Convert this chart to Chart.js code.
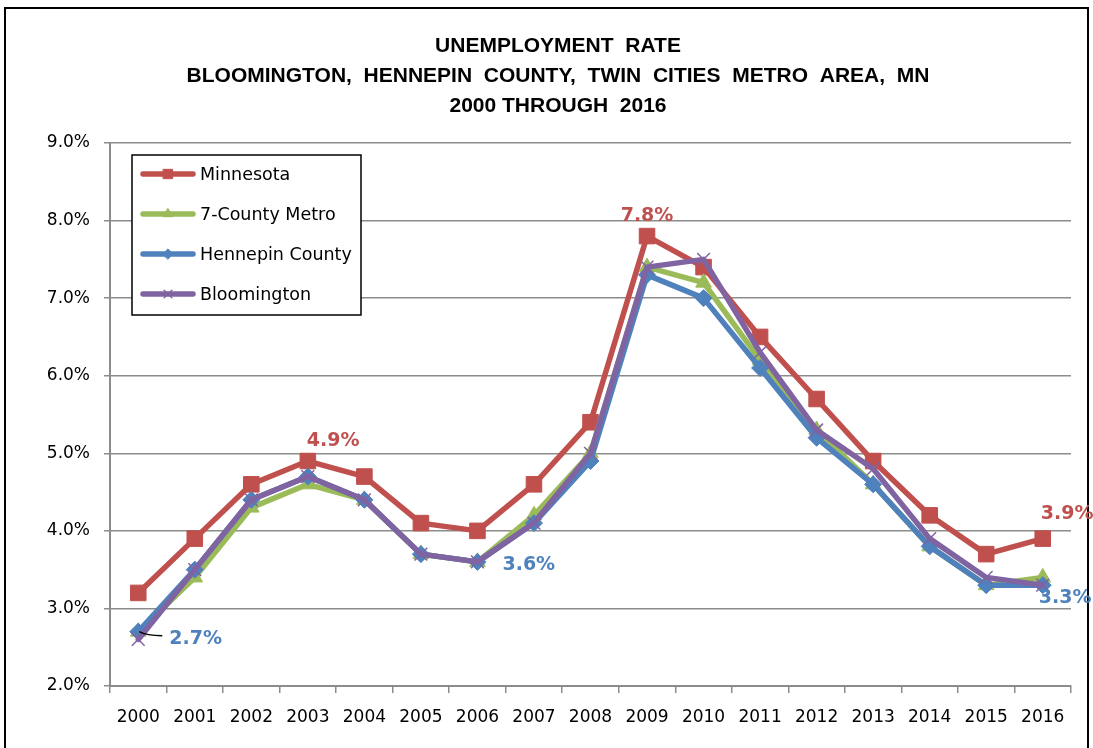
<!DOCTYPE html>
<html lang="en">
<head>
<meta charset="UTF-8">
<title>Unemployment Rate</title>
<script src="https://cdn.jsdelivr.net/npm/chart.js"></script>
<style>
  body { margin: 0; background: #fff; }
  canvas { display: block; }
</style>
</head>
<body>
<canvas id="rateChart" width="1093" height="748"></canvas>
<script>
const years = ['2000', '2001', '2002', '2003', '2004', '2005', '2006', '2007', '2008',
               '2009', '2010', '2011', '2012', '2013', '2014', '2015', '2016'];
const minnesota   = [3.2, 3.9, 4.6, 4.9, 4.7, 4.1, 4.0, 4.6, 5.4, 7.8, 7.4, 6.5, 5.7, 4.9, 4.2, 3.7, 3.9];
const metro7      = [2.7, 3.4, 4.3, 4.6, 4.4, 3.7, 3.6, 4.2, 5.0, 7.4, 7.2, 6.2, 5.3, 4.6, 3.8, 3.3, 3.4];
const hennepin    = [2.7, 3.5, 4.4, 4.7, 4.4, 3.7, 3.6, 4.1, 4.9, 7.3, 7.0, 6.1, 5.2, 4.6, 3.8, 3.3, 3.3];
const bloomington = [2.6, 3.5, 4.4, 4.7, 4.4, 3.7, 3.6, 4.1, 5.0, 7.4, 7.5, 6.3, 5.3, 4.8, 3.9, 3.4, 3.3];
const yTicks = [2, 3, 4, 5, 6, 7, 8, 9];

const titleLines = [
  'UNEMPLOYMENT  RATE',
  'BLOOMINGTON,  HENNEPIN  COUNTY,  TWIN  CITIES  METRO  AREA,  MN',
  '2000 THROUGH  2016'
];

const RED = '#C0504D', GREEN = '#9BBB59', BLUE = '#4F81BD', PURPLE = '#8064A2';
const GRID = '#8c8c8c';

// value callouts: which dataset/year, and where the text sits relative to the point
const callouts = [
  { ds: 0, i: 3,  align: 'left',   dx: -1, dy: -20 },
  { ds: 0, i: 9,  align: 'center', dx: 0,  dy: -20 },
  { ds: 0, i: 16, align: 'left',   dx: -2, dy: -25 },
  { ds: 2, i: 0,  align: 'left',   dx: 31, dy: 7, leader: true },
  { ds: 2, i: 6,  align: 'left',   dx: 25, dy: 3 },
  { ds: 2, i: 16, align: 'left',   dx: -4, dy: 13 }
];

function series(label, data, color, style, radius, pbw, order) {
  return {
    label, data, order,
    borderColor: color, backgroundColor: color,
    borderWidth: 5.5, borderJoinStyle: 'round', borderCapStyle: 'round',
    pointStyle: style, pointRadius: radius,
    pointBackgroundColor: color, pointBorderColor: color, pointBorderWidth: pbw,
    tension: 0
  };
}

const decorations = {
  id: 'decorations',
  beforeDraw(chart) {
    const ctx = chart.ctx;
    ctx.save();
    ctx.fillStyle = '#fff';
    ctx.fillRect(0, 0, chart.width, chart.height);
    ctx.restore();
  },
  afterDraw(chart) {
    const ctx = chart.ctx;
    const area = chart.chartArea;
    ctx.save();

    // outer frame
    ctx.strokeStyle = '#000';
    ctx.lineWidth = 2;
    ctx.strokeRect(5, 8, 1083, 760);

    // title
    ctx.fillStyle = '#000';
    ctx.font = 'bold 21px "Liberation Sans", Arial, sans-serif';
    ctx.textAlign = 'center';
    ctx.textBaseline = 'middle';
    titleLines.forEach((t, k) => ctx.fillText(t, 558, 46 + k * 30));

    // value callouts
    ctx.font = 'bold 19px "DejaVu Sans", sans-serif';
    callouts.forEach(c => {
      const ds = chart.data.datasets[c.ds];
      const pt = chart.getDatasetMeta(c.ds).data[c.i];
      if (c.leader) {
        ctx.strokeStyle = '#000';
        ctx.lineWidth = 1.5;
        ctx.beginPath();
        ctx.moveTo(pt.x + 1, pt.y);
        ctx.quadraticCurveTo(pt.x + 8, pt.y + 4, pt.x + 24, pt.y + 4);
        ctx.stroke();
      }
      ctx.fillStyle = ds.borderColor;
      ctx.textAlign = c.align;
      ctx.fillText(ds.data[c.i].toFixed(1) + '%', pt.x + c.dx, pt.y + c.dy);
    });

    // legend box inside the plot
    const bx = area.left + 22, by = area.top + 12, bw = 229, bh = 160;
    ctx.fillStyle = '#fff';
    ctx.fillRect(bx, by, bw, bh);
    ctx.strokeStyle = '#000';
    ctx.lineWidth = 1.5;
    ctx.strokeRect(bx, by, bw, bh);
    ctx.font = '17.5px "DejaVu Sans", sans-serif';
    ctx.textAlign = 'left';
    chart.data.datasets.forEach((d, k) => {
      const y = by + 19 + k * 40;
      ctx.strokeStyle = d.borderColor;
      ctx.lineWidth = d.borderWidth;
      ctx.lineCap = 'round';
      ctx.beginPath();
      ctx.moveTo(bx + 11, y);
      ctx.lineTo(bx + 61, y);
      ctx.stroke();
      ctx.fillStyle = d.pointBackgroundColor;
      ctx.strokeStyle = d.pointBorderColor;
      ctx.lineWidth = d.pointBorderWidth;
      Chart.helpers.drawPoint(ctx, {
        pointStyle: d.pointStyle, radius: d.pointRadius * 0.6,
        borderWidth: d.pointBorderWidth, rotation: 0
      }, bx + 36, y);
      ctx.fillStyle = '#000';
      ctx.fillText(d.label, bx + 68, y + 1);
    });

    ctx.restore();
  }
};

new Chart(document.getElementById('rateChart'), {
  type: 'line',
  data: {
    labels: years,
    datasets: [
      series('Minnesota', minnesota, RED, 'rect', 11, 1, 4),
      series('7-County Metro', metro7, GREEN, 'triangle', 9, 1, 3),
      series('Hennepin County', hennepin, BLUE, 'rectRot', 8.5, 1, 2),
      series('Bloomington', bloomington, PURPLE, 'crossRot', 9, 1.5, 1)
    ]
  },
  options: {
    responsive: false,
    animation: false,
    events: [],
    layout: { padding: { top: 143, right: 22, bottom: 0, left: 0 } },
    plugins: {
      legend: { display: false },
      title: { display: false },
      tooltip: { enabled: false }
    },
    scales: {
      x: {
        offset: true,
        grid: { offset: true, drawOnChartArea: false, color: GRID, lineWidth: 1.5, tickLength: 7 },
        border: { color: GRID, width: 2 },
        ticks: {
          color: '#000', font: { family: 'DejaVu Sans', size: 17 },
          padding: 14, maxRotation: 0, autoSkip: false
        },
        afterFit(scale) { scale.height = 62; }
      },
      y: {
        min: 2, max: 9,
        afterBuildTicks(scale) { scale.ticks = yTicks.map(v => ({ value: v })); },
        grid: { color: GRID, lineWidth: 1.5, tickLength: 6 },
        border: { color: GRID, width: 2 },
        ticks: {
          color: '#000', font: { family: 'DejaVu Sans', size: 17 },
          padding: 14, callback: v => v.toFixed(1) + '%'
        },
        afterFit(scale) { scale.width = 110; }
      }
    }
  },
  plugins: [decorations]
});
</script>
</body>
</html>
